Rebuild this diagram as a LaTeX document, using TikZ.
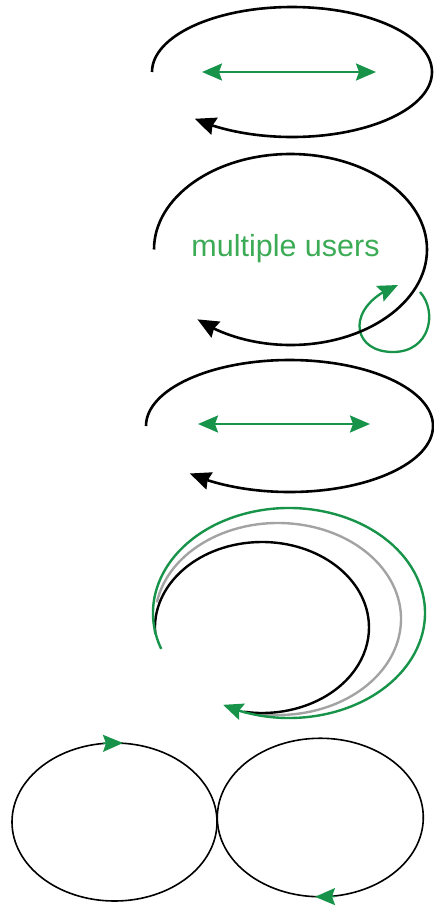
\documentclass[tikz,border=0pt]{standalone}
\usepackage{fontspec}
\setmainfont{Liberation Sans}
\usetikzlibrary{arrows.meta,bending,calc,shapes.geometric}
\definecolor{flowgreen}{HTML}{17934A}
\definecolor{labelgreen}{HTML}{3CAB55}
\definecolor{ringgray}{HTML}{A3A3A3}
\tikzset{
  cycleline/.style={draw=black, line width=2.6pt},
  thinring/.style={draw=black, line width=1.6pt},
  blackhead/.style={-{Stealth[length=21pt,width=18pt,inset=2pt]}},
  greentip/.style={-{Stealth[length=20pt,width=17pt,inset=3pt]}},
  pingpong/.style={draw=flowgreen, line width=2.3pt,
    {Stealth[length=20pt,width=17pt,inset=3pt]}-{Stealth[length=20pt,width=17pt,inset=3pt]}},
  userlabel/.style={text=labelgreen, font=\fontsize{30.5}{36}\selectfont, inner sep=0pt}
}
\begin{document}
\begin{tikzpicture}[x=1pt,y=-1pt]
\useasboundingbox (0,0) rectangle (434,906);

% first cycle with a two-way exchange
\coordinate (c1start) at (152,72);
\draw[cycleline, blackhead] (c1start) arc[start angle=180, end angle=494, x radius=140, y radius=65];
\coordinate (x1l) at (202,72);
\coordinate (x1r) at (376,72);
\draw[pingpong] (x1l) -- (x1r);

% second cycle: many users, with a small self loop
\coordinate (lp0) at (420,292);
\coordinate (lp1) at (393,352);
\coordinate (lp2) at (398,285);
\draw[draw=flowgreen, line width=2.3pt, greentip]
  (lp0) .. controls (438,312) and (430,352) .. (lp1)
        .. controls (350,352) and (345,305) .. (lp2);
\coordinate (c2start) at (154,249.5);
\draw[cycleline, blackhead] (c2start) arc[start angle=180, end angle=493, x radius=136.5, y radius=95.5];
\node[userlabel, anchor=base] (users) at (285.5,256) {multiple users};

% third cycle with a two-way exchange
\coordinate (c3start) at (146,426);
\draw[cycleline, blackhead] (c3start) arc[start angle=180, end angle=494, x radius=143.5, y radius=66];
\coordinate (x3l) at (198,424);
\coordinate (x3r) at (370,424);
\draw[pingpong] (x3l) -- (x3r);

% nested spirals: grey, black, green
\coordinate (c4c) at (278,619);
\draw[draw=ringgray, line width=2.4pt]
  ($(c4c)+({123*cos(190)},{96*sin(190)})$) arc[start angle=190, end angle=465, x radius=123, y radius=96];
\coordinate (c4b) at (262,627.5);
\draw[draw=black, line width=2.4pt]
  ($(c4b)+({107*cos(176)},{85.5*sin(176)})$) arc[start angle=176, end angle=460, x radius=107, y radius=85.5];
\coordinate (c4g) at (289,613);
\draw[draw=flowgreen, line width=2.4pt, greentip]
  ($(c4g)+({136*cos(160)},{105*sin(160)})$) arc[start angle=160, end angle=479, x radius=136, y radius=105];

% two touching rings
\node[thinring, ellipse, minimum width=205pt, minimum height=158pt, inner sep=0pt] (ringL) at (114.5,822) {};
\node[thinring, ellipse, minimum width=206pt, minimum height=158.5pt, inner sep=0pt] (ringR) at (320.3,817.5) {};
\coordinate (tl0) at (103,743.3);
\coordinate (tl1) at (123,743);
\draw[draw=flowgreen, line width=1.6pt, greentip] (tl0) -- (tl1);
\coordinate (tr0) at (335,896.6);
\coordinate (tr1) at (315,896.8);
\draw[draw=flowgreen, line width=1.6pt, greentip] (tr0) -- (tr1);
\end{tikzpicture}
\end{document}
